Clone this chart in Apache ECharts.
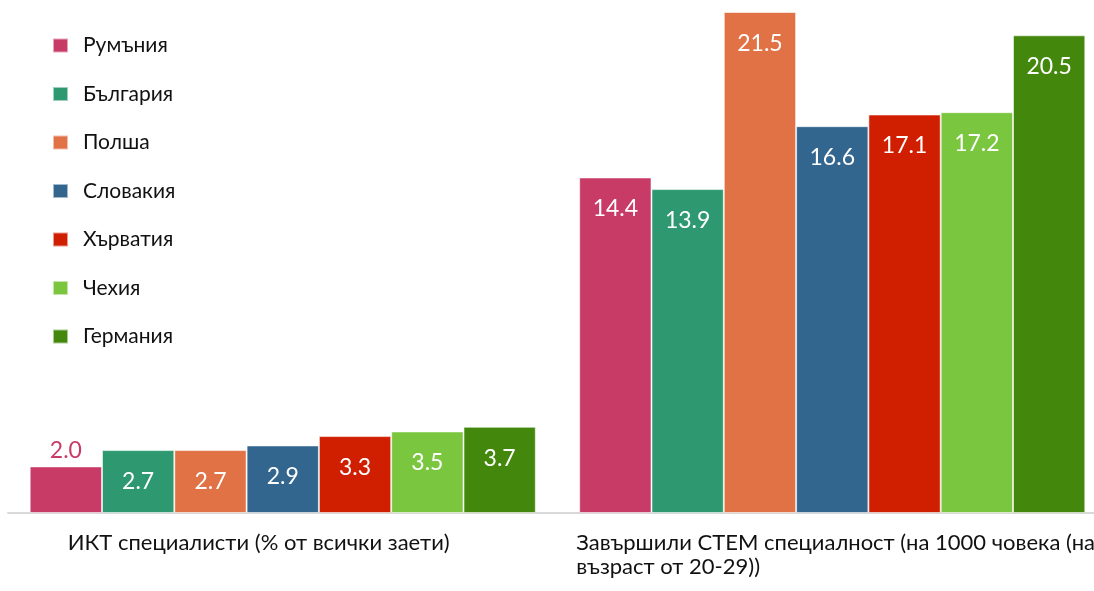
<!DOCTYPE html>
<html>
<head>
<meta charset="utf-8">
<script src="https://cdn.jsdelivr.net/npm/echarts@6/dist/echarts.min.js"></script>
<style>
html,body{margin:0;padding:0;background:#fff;}
#chart{width:1094px;height:591px;}
</style>
</head>
<body>
<div id="chart"></div>
<script>
const categories = ['ИКТ специалисти (% от всички заети)', 'Завършили СТЕМ специалност (на 1000 човека (на\nвъзраст от 20-29))'];
const countries = ['Румъния', 'България', 'Полша', 'Словакия', 'Хърватия', 'Чехия', 'Германия'];
const romania = [2.0, 14.4];
const bulgaria = [2.7, 13.9];
const poland = [2.7, 21.5];
const slovakia = [2.9, 16.6];
const croatia = [3.3, 17.1];
const czechia = [3.5, 17.2];
const germany = [3.7, 20.5];
const seriesValues = [romania, bulgaria, poland, slovakia, croatia, czechia, germany];
const colors = ['#C83B66', '#2E9970', '#E07245', '#33668F', '#D01E00', '#7AC63E', '#43880C'];

const FONT = 'Lato';
const chart = echarts.init(document.getElementById('chart'));

const series = countries.map((name, i) => ({
  name: name,
  type: 'bar',
  barWidth: 72.3,
  barGap: '0%',
  itemStyle: { color: colors[i], borderColor: 'rgba(255,255,255,0.55)', borderWidth: 1 },
  label: {
    show: true,
    position: 'insideTop',
    distance: 20,
    color: '#fff',
    fontSize: 23,
    fontFamily: FONT,
    formatter: p => Number(p.value).toFixed(1)
  },
  data: seriesValues[i].map(v => v < 2.5 ? {
    value: v,
    label: { position: 'top', distance: 4, color: colors[i] }
  } : v)
}));

chart.setOption({
  animation: false,
  backgroundColor: '#fff',
  grid: { left: 8, width: 1099, top: 12, height: 501, containLabel: false, outerBoundsMode: 'none' },
  legend: {
    orient: 'vertical',
    left: 52,
    top: 35,
    padding: 0,
    icon: 'rect',
    itemWidth: 15,
    itemHeight: 14,
    itemGap: 27.5,
    data: countries,
    textStyle: { fontSize: 21, fontFamily: FONT, color: '#111', padding: [0, 0, 0, 10], lineHeight: 18 }
  },
  xAxis: {
    type: 'category',
    data: categories,
    axisLine: { lineStyle: { color: '#D9D9D9', width: 2 } },
    axisTick: { show: false },
    axisLabel: {
      interval: 0,
      margin: 18,
      formatter: (val, idx) => val.split('\n').map(l => '{' + (idx === 0 ? 'a' : 'b') + '|' + l + '}').join('\n'),
      rich: {
        a: { width: 430, align: 'left', fontSize: 22, lineHeight: 24, color: '#111', fontFamily: FONT },
        b: { width: 512, align: 'left', fontSize: 22, lineHeight: 24, color: '#111', fontFamily: FONT }
      }
    }
  },
  yAxis: { type: 'value', min: 0, max: 21.5, show: false, splitLine: { show: false } },
  series: series
});
</script>
</body>
</html>
